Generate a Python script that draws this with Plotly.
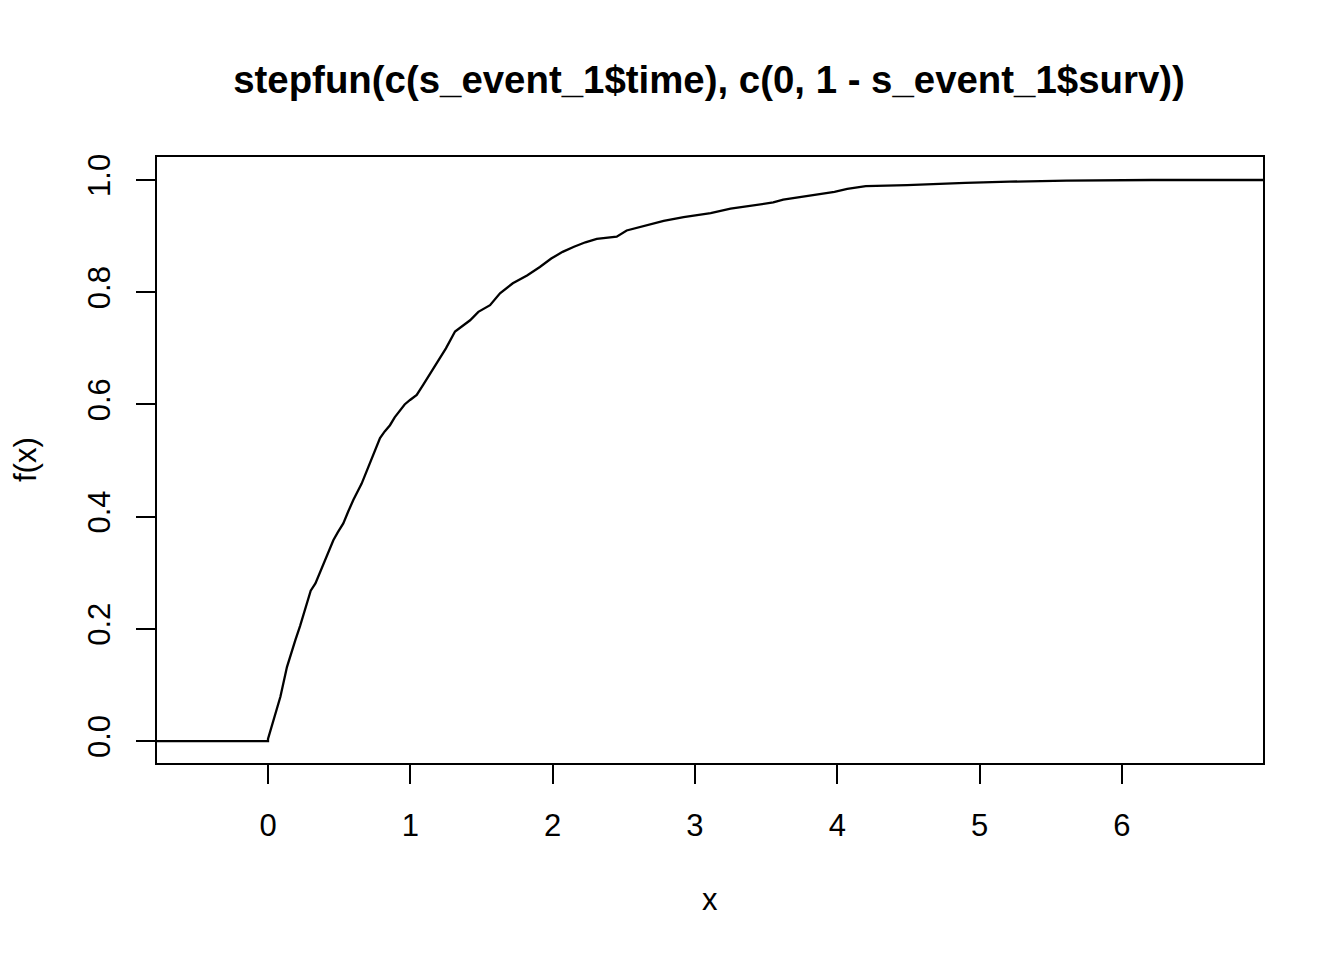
import plotly.graph_objects as go

# Step function knots (time) and cumulative values
times = [0.00, 0.04, 0.087, 0.133, 0.16, 0.192, 0.225, 0.262, 0.30, 0.333,
         0.38, 0.42, 0.459, 0.49, 0.529, 0.565, 0.60, 0.658, 0.69, 0.729,
         0.76, 0.787, 0.82, 0.857, 0.89, 0.928, 0.96, 0.998, 1.045, 1.09,
         1.14, 1.185, 1.25, 1.314, 1.37, 1.42, 1.478, 1.56, 1.63, 1.72,
         1.82, 1.91, 1.99, 2.07, 2.15, 2.23, 2.31, 2.45, 2.52, 2.61,
         2.70, 2.78, 2.92, 3.02, 3.11, 3.25, 3.40, 3.55, 3.62, 3.75,
         3.88, 3.98, 4.07, 4.20, 4.49, 4.67, 4.90, 5.21, 5.61, 6.21]
values = [0.004, 0.037, 0.079, 0.132, 0.155, 0.180, 0.205, 0.234, 0.268, 0.281,
          0.310, 0.335, 0.358, 0.372, 0.388, 0.410, 0.430, 0.459, 0.480, 0.504,
          0.525, 0.540, 0.552, 0.563, 0.577, 0.590, 0.600, 0.608, 0.617, 0.635,
          0.655, 0.673, 0.700, 0.730, 0.740, 0.750, 0.765, 0.777, 0.798, 0.816,
          0.830, 0.845, 0.860, 0.872, 0.881, 0.889, 0.895, 0.899, 0.910, 0.916,
          0.921, 0.927, 0.934, 0.938, 0.941, 0.949, 0.955, 0.960, 0.965, 0.970,
          0.976, 0.979, 0.984, 0.989, 0.991, 0.993, 0.995, 0.997, 0.999, 1.000]
left_value = 0.0

x_ticks = [0, 1, 2, 3, 4, 5, 6]
x_ticklabels = ["0", "1", "2", "3", "4", "5", "6"]
y_ticks = [0.0, 0.2, 0.4, 0.6, 0.8, 1.0]
y_ticklabels = ["0.0", "0.2", "0.4", "0.6", "0.8", "1.0"]

x_range = [-0.780, 6.991]
y_range = [-0.039, 1.041]

title_text = "stepfun(c(s_event_1$time), c(0, 1 - s_event_1$surv))"

FONT = "Liberation Sans, Arial, Helvetica, sans-serif"

# page offset (browser body margin)
OFF = 8
W, H = 1344 - OFF, 960 - OFF
L, T, PW, PH = 157 - OFF, 157 - OFF, 1106, 606

# extend the function to the plot edges as R's plot.stepfun does
xs = [x_range[0], times[0]] + times + [x_range[1]]
ys = [left_value, left_value] + values + [values[-1]]

fig = go.Figure()
fig.add_trace(go.Scatter(
    x=xs, y=ys, mode="lines", line=dict(color="black", width=2.3, shape="linear"),
    hoverinfo="skip", showlegend=False,
))

fig.update_layout(
    width=W, height=H,
    margin=dict(l=L, r=W - L - PW, t=T, b=H - T - PH, autoexpand=False),
    paper_bgcolor="white", plot_bgcolor="white",
    font=dict(family=FONT, size=31, color="black"),
    title=dict(text="<b>" + title_text + "</b>", x=(709 - OFF) / W, xanchor="center",
               y=1 - (80 - OFF) / H, yanchor="middle", font=dict(size=38.4, family=FONT)),
    showlegend=False,
)
fig.update_xaxes(
    range=x_range, tickmode="array", tickvals=x_ticks, ticktext=x_ticklabels,
    ticks="outside", ticklen=19, tickwidth=1.6, tickcolor="black",
    showline=True, linecolor="black", linewidth=1.6, mirror=True,
    showgrid=False, zeroline=False, ticklabelstandoff=15,
)
fig.update_yaxes(
    range=y_range, tickmode="array", tickvals=y_ticks, ticktext=y_ticklabels,
    ticks="outside", ticklen=19, tickwidth=1.6, tickcolor="black", tickangle=-90,
    showline=True, linecolor="black", linewidth=1.6, mirror=True,
    showgrid=False, zeroline=False, ticklabelstandoff=14,
)
fig.add_annotation(text="x", xref="paper", yref="paper", x=0.5, y=(763 - 900) / 606,
                   xanchor="center", yanchor="middle", showarrow=False,
                   font=dict(size=31, family=FONT))
fig.add_annotation(text="f(x)", xref="paper", yref="paper", x=(25 - 157) / 1106, y=0.5,
                   xanchor="center", yanchor="middle", textangle=-90, showarrow=False,
                   font=dict(size=31, family=FONT))

fig.write_html("out.html")
